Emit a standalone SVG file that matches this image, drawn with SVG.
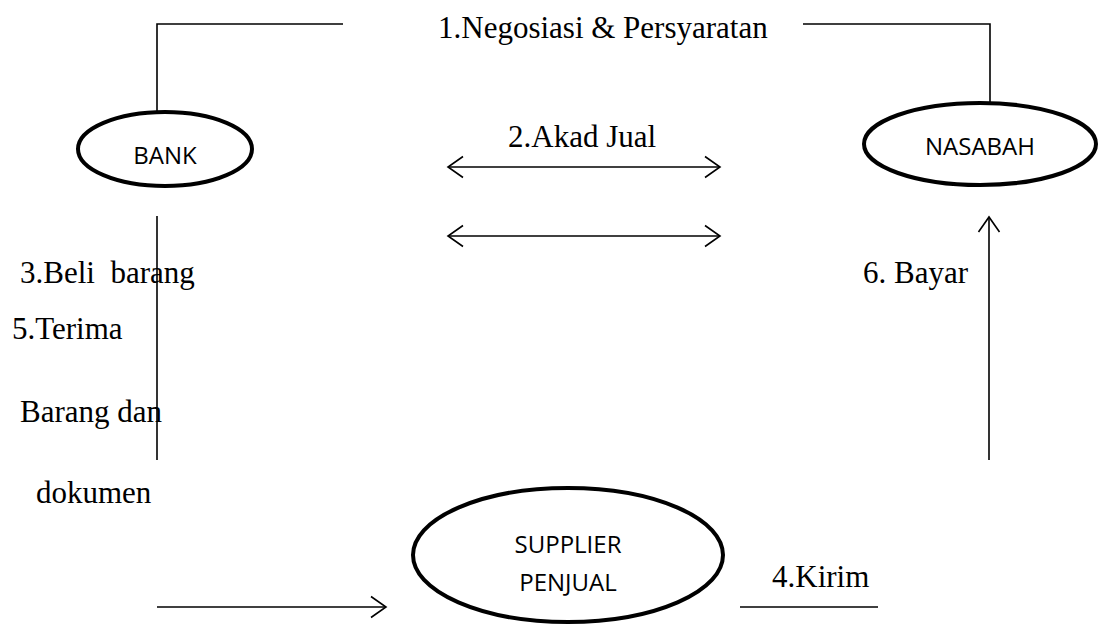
<svg xmlns="http://www.w3.org/2000/svg" width="1109" height="624" viewBox="0 0 1109 624">
<defs>
<marker id="open" viewBox="0 0 18 24" refX="16" refY="12" markerWidth="18" markerHeight="24" markerUnits="userSpaceOnUse" orient="auto-start-reverse">
<path d="M1,1.5 L16,12 L1,22.5" fill="none" stroke="#000" stroke-width="1.6"/>
</marker>
</defs>
<style>
.ln{fill:none;stroke:#000;stroke-width:1.6}
.el{fill:#fff;stroke:#000;stroke-width:4}
.lbl{font-family:"Liberation Serif","Times New Roman",serif;font-size:31px;fill:#000}
.nd{font-family:"Open Sans","Liberation Sans",sans-serif;font-size:24px;fill:#000;text-anchor:middle}
</style>
<rect width="1109" height="624" fill="#fff"/>
<g id="connectors">
<path class="ln" d="M343,24 H157 V112"/>
<path class="ln" d="M803,24 H990 V102"/>
<path class="ln" d="M448,167 H720" marker-start="url(#open)" marker-end="url(#open)"/>
<path class="ln" d="M448,236 H720" marker-start="url(#open)" marker-end="url(#open)"/>
<path class="ln" d="M157,216 V460"/>
<path class="ln" d="M989,460 V217" marker-end="url(#open)"/>
<path class="ln" d="M157,607 H386" marker-end="url(#open)"/>
<path class="ln" d="M740,607 H878"/>
</g>
<g id="labels">
<text class="lbl" x="438" y="38">1.Negosiasi &amp; Persyaratan</text>
<text class="lbl" x="508" y="147">2.Akad Jual</text>
<text class="lbl" x="20" y="283" xml:space="preserve">3.Beli  barang</text>
<text class="lbl" x="863" y="283">6. Bayar</text>
<text class="lbl" x="12" y="339">5.Terima</text>
<text class="lbl" x="20" y="422">Barang dan</text>
<text class="lbl" x="36" y="503">dokumen</text>
<text class="lbl" x="772" y="587">4.Kirim</text>
</g>
<g id="bank">
<ellipse class="el" cx="165" cy="149" rx="87" ry="37"/>
<text class="nd" x="165" y="164">BANK</text>
</g>
<g id="nasabah">
<ellipse class="el" cx="980" cy="144" rx="116" ry="41"/>
<text class="nd" x="980" y="155">NASABAH</text>
</g>
<g id="supplier">
<ellipse class="el" cx="568" cy="555" rx="155" ry="67"/>
<text class="nd" x="568" y="553">SUPPLIER</text>
<text class="nd" x="568" y="591">PENJUAL</text>
</g>
</svg>
